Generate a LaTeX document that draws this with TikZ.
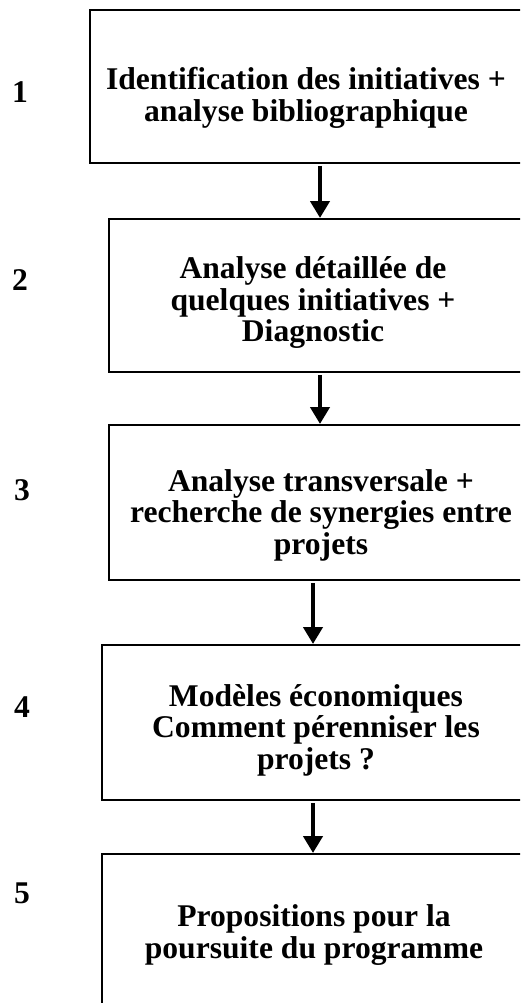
\documentclass[tikz,border=0pt]{standalone}
\usepackage{fontspec}
\setmainfont{Liberation Serif}
\usetikzlibrary{arrows.meta}
\begin{document}
\begin{tikzpicture}[x=1pt,y=-1pt,
  stepbox/.style={draw, line width=2pt, inner sep=0pt, anchor=north west},
  steptext/.style={font=\fontsize{31.6}{31.5}\selectfont\bfseries, align=center, inner sep=0pt},
  stepnum/.style={font=\fontsize{31.6}{31.5}\selectfont\bfseries, inner sep=0pt},
  arr/.style={line width=4.5pt, -{Triangle[width=19pt,length=17pt]}, shorten <=2pt}]
\useasboundingbox (0,0) rectangle (520,1003);
\clip (0,0) rectangle (520,1003);
\fill[white] (0,0) rectangle (520,1003);
% boxes
\node[stepbox, minimum width=437pt, minimum height=153pt] (b1) at (89,9) {};
\node[stepbox, minimum width=422pt, minimum height=153pt] (b2) at (108,218) {};
\node[stepbox, minimum width=422pt, minimum height=155pt] (b3) at (108,424) {};
\node[stepbox, minimum width=422pt, minimum height=155pt] (b4) at (101,644) {};
\node[stepbox, minimum width=422pt, minimum height=160pt] (b5) at (101,853) {};
% texts
\node[steptext] (t1) at (306,98) {Identification des initiatives +\\analyse bibliographique};
\node[steptext] (t2) at (313,303) {Analyse détaillée de\\quelques initiatives +\\Diagnostic};
\node[steptext] (t3) at (321,515) {Analyse transversale +\\recherche de synergies entre\\projets};
\node[steptext] (t4) at (316,730) {Modèles économiques\\Comment pérenniser les\\projets~?};
\node[steptext] (t5) at (314,935) {Propositions pour la\\poursuite du programme};
% numbers
\node[stepnum] (n1) at (20,92) {1};
\node[stepnum] (n2) at (20,280) {2};
\node[stepnum] (n3) at (22,490) {3};
\node[stepnum] (n4) at (22,707) {4};
\node[stepnum] (n5) at (22,893) {5};
% arrows
\draw[arr] (b1.south -| b2.north) -- (b2.north);
\draw[arr] (b2.south) -- (b3.north);
\draw[arr] (b3.south -| b4.north) -- (b4.north);
\draw[arr] (b4.south) -- (b5.north);
\end{tikzpicture}
\end{document}
